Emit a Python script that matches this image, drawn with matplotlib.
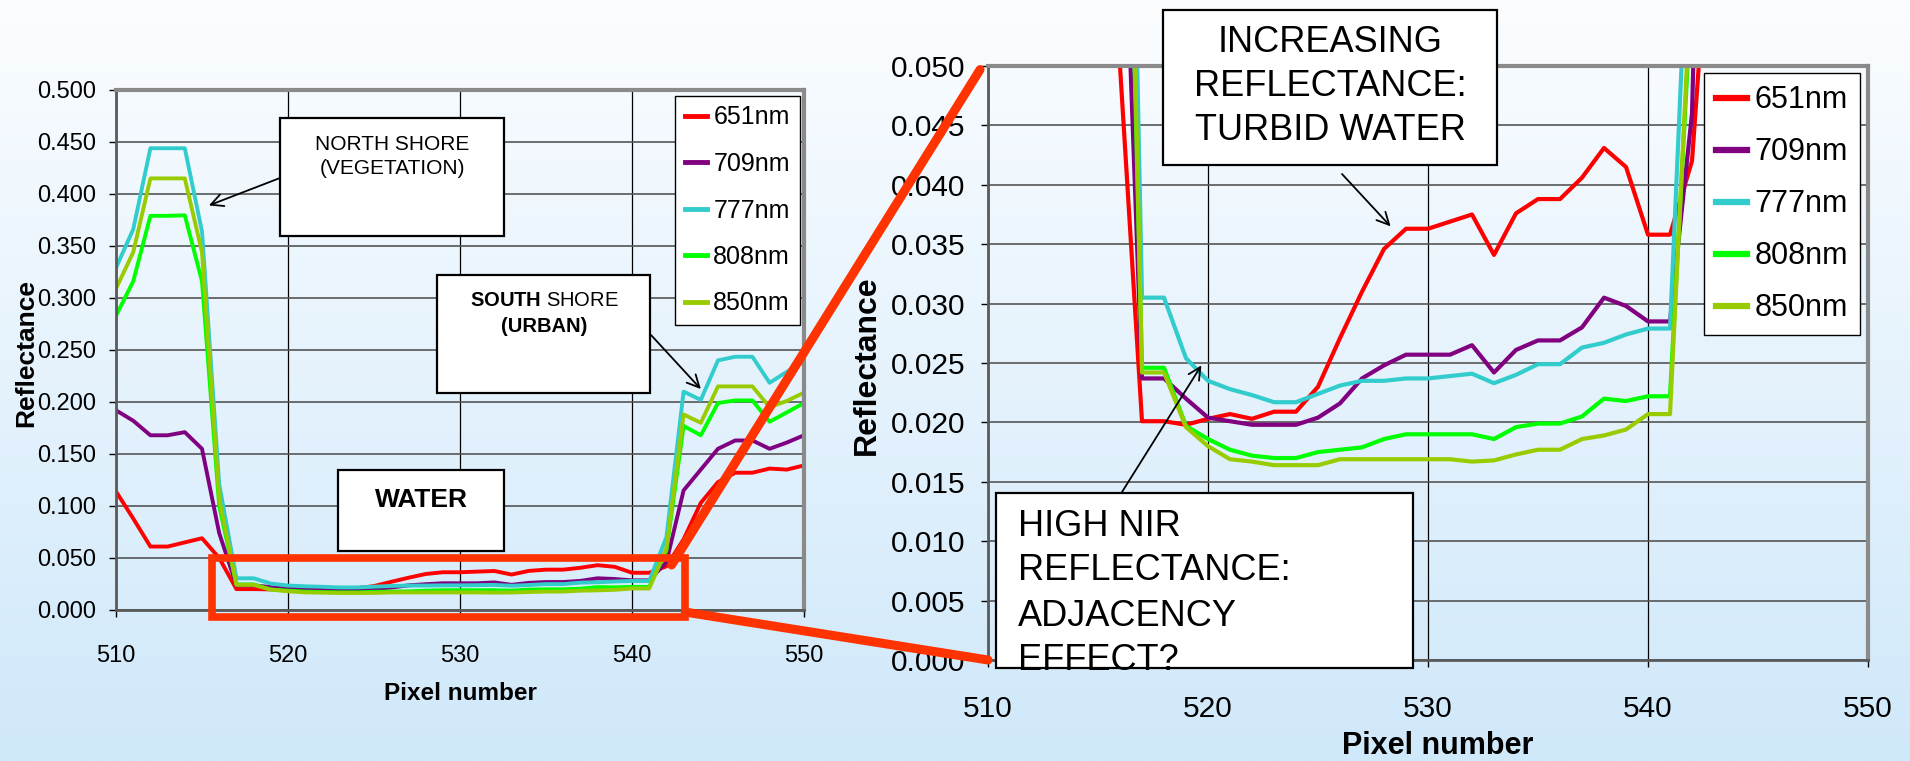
import numpy as np
import matplotlib
matplotlib.use("Agg")
import matplotlib.pyplot as plt
from matplotlib.patches import Rectangle, ConnectionPatch
from matplotlib.transforms import Affine2D

plt.rcParams['font.family'] = ['Liberation Sans', 'DejaVu Sans']
plt.rcParams['mathtext.fontset'] = 'custom'
plt.rcParams['mathtext.rm'] = 'Liberation Sans'
plt.rcParams['mathtext.bf'] = 'Liberation Sans:bold'

# Reflectance profile across the lake (pixel 510-550)
pixels = list(range(510, 551))

r651 = [0.114, 0.088, 0.061, 0.061, 0.065, 0.069, 0.050, 0.0201, 0.0201, 0.0198,
        0.0203, 0.0207, 0.0203, 0.0209, 0.0209, 0.0230, 0.0271, 0.0310, 0.0346, 0.0363,
        0.0363, 0.0369, 0.0375, 0.0341, 0.0376, 0.0388, 0.0388, 0.0406, 0.0431, 0.0415,
        0.0358, 0.0358, 0.042, 0.068, 0.103, 0.123, 0.132, 0.132, 0.136, 0.135, 0.139]
r709 = [0.192, 0.182, 0.168, 0.168, 0.171, 0.155, 0.074, 0.0237, 0.0237, 0.0220,
        0.0204, 0.0201, 0.0198, 0.0198, 0.0198, 0.0204, 0.0216, 0.0237, 0.0248, 0.0257,
        0.0257, 0.0257, 0.0265, 0.0242, 0.0261, 0.0269, 0.0269, 0.0280, 0.0305, 0.0298,
        0.0285, 0.0285, 0.046, 0.115, 0.135, 0.155, 0.163, 0.163, 0.155, 0.161, 0.168]
r777 = [0.329, 0.366, 0.444, 0.444, 0.444, 0.364, 0.121, 0.0305, 0.0305, 0.0254,
        0.0235, 0.0228, 0.0223, 0.0217, 0.0217, 0.0224, 0.0231, 0.0235, 0.0235, 0.0237,
        0.0237, 0.0239, 0.0241, 0.0233, 0.0240, 0.0249, 0.0249, 0.0263, 0.0267, 0.0274,
        0.0279, 0.0279, 0.070, 0.210, 0.202, 0.240, 0.2435, 0.2435, 0.2185, 0.229, 0.239]
r808 = [0.283, 0.316, 0.379, 0.379, 0.3795, 0.316, 0.100, 0.0246, 0.0246, 0.0197,
        0.0186, 0.0177, 0.0172, 0.0170, 0.0170, 0.0175, 0.0177, 0.0179, 0.0186, 0.0190,
        0.0190, 0.0190, 0.0190, 0.0186, 0.0196, 0.0199, 0.0199, 0.0205, 0.0220, 0.0218,
        0.0222, 0.0222, 0.057, 0.177, 0.168, 0.199, 0.2015, 0.2015, 0.181, 0.190, 0.199]
r850 = [0.309, 0.344, 0.415, 0.415, 0.415, 0.344, 0.107, 0.0242, 0.0242, 0.0196,
        0.0180, 0.0169, 0.0167, 0.0164, 0.0164, 0.0164, 0.0169, 0.0169, 0.0169, 0.0169,
        0.0169, 0.0169, 0.0167, 0.0168, 0.0173, 0.0177, 0.0177, 0.0186, 0.0189, 0.0194,
        0.0207, 0.0207, 0.059, 0.188, 0.180, 0.215, 0.215, 0.215, 0.195, 0.201, 0.209]

bands = ["651nm", "709nm", "777nm", "808nm", "850nm"]
series = [r651, r709, r777, r808, r850]
colors = ["#ff0000", "#800080", "#33cccc", "#00ff00", "#99cc00"]

W, H = 1910, 761
fig = plt.figure(figsize=(W / 100, H / 100), dpi=100)
# pixel coordinates, origin top-left
px = Affine2D().scale(1 / W, -1 / H).translate(0, 1) + fig.transFigure

# soft white-to-blue background
bg = fig.add_axes([0, 0, 1, 1], zorder=-1)
grad = np.linspace(0, 1, 256).reshape(-1, 1)
cmap = matplotlib.colors.LinearSegmentedColormap.from_list("bg", ["#fbfdff", "#cfe8fa"])
bg.imshow(grad, aspect="auto", cmap=cmap, extent=[0, 1, 0, 1], origin="upper")
bg.axis("off")


def frac(x0, y0, x1, y1):
    return [x0 / W, 1 - y1 / H, (x1 - x0) / W, (y1 - y0) / H]


def style_axes(ax, ymax, ystep, tick_fs, xpad, ypad):
    ax.set_facecolor("none")
    ax.set_xlim(510, 550)
    ax.set_ylim(0, ymax)
    ax.set_xticks(range(510, 551, 10))
    ax.set_yticks(np.arange(0, ymax + ystep / 2, ystep))
    ax.yaxis.set_major_formatter(matplotlib.ticker.FormatStrFormatter("%.3f"))
    ax.tick_params(axis="both", direction="out", length=5, width=1, labelsize=tick_fs)
    ax.tick_params(axis="x", pad=xpad)
    ax.tick_params(axis="y", pad=ypad)
    ax.grid(axis="y", color="#555555", lw=1.2)
    ax.grid(axis="x", color="black", lw=0.9)
    ax.set_axisbelow(True)
    for s in ["top", "right"]:
        ax.spines[s].set_color("#8a8a8a")
        ax.spines[s].set_linewidth(3)
    for s in ["left", "bottom"]:
        ax.spines[s].set_color("#5a5a5a")
        ax.spines[s].set_linewidth(2)


# left: full profile
ax1 = fig.add_axes(frac(116, 90, 804, 610))
for vals, c, lab in zip(series, colors, bands):
    ax1.plot(pixels, vals, color=c, lw=2.8, label=lab)
style_axes(ax1, 0.5, 0.05, 17, 20, 9.5)
ax1.set_xlabel("Pixel number", fontsize=17.5, fontweight="bold")
ax1.xaxis.set_label_coords(0.5, -0.16)
ax1.xaxis.label.set_va("center")
ax1.set_ylabel("Reflectance", fontsize=19, fontweight="bold")
ax1.yaxis.set_label_coords(-0.131, 0.494)
ax1.yaxis.label.set_va("center")
leg1 = ax1.legend(loc="upper left", bbox_to_anchor=(675 / W, 1 - 96 / H),
                  bbox_transform=fig.transFigure, borderaxespad=0, fontsize=18,
                  handlelength=0.9, handletextpad=0.25, labelspacing=0.9,
                  borderpad=0.38, fancybox=False, framealpha=1, edgecolor="black")
leg1.get_frame().set_linewidth(1)
for ln in leg1.get_lines():
    ln.set_linewidth(3.5)

# right: zoom on the water pixels
ax2 = fig.add_axes(frac(988, 66, 1868, 660))
for vals, c, lab in zip(series, colors, bands):
    ax2.plot(pixels, vals, color=c, lw=3, label=lab)
style_axes(ax2, 0.05, 0.005, 21.5, 20.5, 11.5)
ax2.set_xlabel("Pixel number", fontsize=22, fontweight="bold")
ax2.xaxis.set_label_coords(0.511, -0.145)
ax2.xaxis.label.set_va("center")
ax2.set_ylabel("Reflectance", fontsize=23, fontweight="bold")
ax2.yaxis.set_label_coords(-0.1375, 0.497)
ax2.yaxis.label.set_va("center")
leg2 = ax2.legend(loc="upper left", bbox_to_anchor=(1704 / W, 1 - 73 / H),
                  bbox_transform=fig.transFigure, borderaxespad=0, fontsize=22,
                  handlelength=1.0, handletextpad=0.25, labelspacing=0.72,
                  borderpad=0.4, fancybox=False, framealpha=1, edgecolor="black")
leg2.get_frame().set_linewidth(1)
for ln in leg2.get_lines():
    ln.set_linewidth(4.5)


def text_box(x0, y0, x1, y1, lines):
    fig.add_artist(Rectangle((x0, y0), x1 - x0, y1 - y0, transform=px,
                             facecolor="white", edgecolor="black", lw=1.6, zorder=4))
    for (x, y, s, fs, kw) in lines:
        fig.text(x, y, s, transform=px, fontsize=fs, va="center", zorder=5, **kw)


text_box(280, 118, 504, 236, [
    (392, 144, "NORTH SHORE", 15, dict(ha="center")),
    (392, 169, "(VEGETATION)", 15, dict(ha="center")),
])
text_box(437, 275, 650, 393, [
    (544, 301, r"$\bf{SOUTH}$ SHORE", 14.5, dict(ha="center")),
    (544, 327, "(URBAN)", 14.5, dict(ha="center", fontweight="bold")),
])
text_box(338, 470, 504, 551, [
    (421, 500, "WATER", 19, dict(ha="center", fontweight="bold")),
])
text_box(1163, 10, 1497, 165, [
    (1330, 43, "INCREASING", 26, dict(ha="center")),
    (1330, 86, "REFLECTANCE:", 26, dict(ha="center")),
    (1330, 130, "TURBID WATER", 26, dict(ha="center")),
])
text_box(996, 493, 1413, 668, [
    (1018, 526, "HIGH NIR", 26, dict(ha="left")),
    (1018, 571, "REFLECTANCE:", 26, dict(ha="left")),
    (1018, 617, "ADJACENCY", 26, dict(ha="left")),
    (1018, 661, "EFFECT?", 26, dict(ha="left")),
])

arrow = dict(arrowstyle="->", lw=1.3, color="black", shrinkA=0, shrinkB=0,
             mutation_scale=22)
ax1.annotate("", xy=(515.4, 0.389), xytext=(280, 178), textcoords=px, arrowprops=arrow)
ax1.annotate("", xy=(544.0, 0.2125), xytext=(651, 335), textcoords=px, arrowprops=arrow)
ax2.annotate("", xy=(528.3, 0.0365), xytext=(1342, 174), textcoords=px, arrowprops=arrow)
ax2.annotate("", xy=(519.7, 0.0248), xytext=(1122, 492), textcoords=px, arrowprops=arrow)

# zoom window and connectors
zoom_col = "#ff3300"
ax1.add_patch(Rectangle((515.6, -0.0067), 27.5, 0.0567, fill=False, ec=zoom_col,
                        lw=5.5, clip_on=False, zorder=6))
fig.add_artist(ConnectionPatch(xyA=(542.3, 0.0433), coordsA=ax1.transData,
                               xyB=(509.64, 0.0497), coordsB=ax2.transData,
                               color=zoom_col, lw=6.5, zorder=6))
fig.add_artist(ConnectionPatch(xyA=(543.1, -0.002), coordsA=ax1.transData,
                               xyB=(510.0, 0.0), coordsB=ax2.transData,
                               color=zoom_col, lw=6.5, zorder=6))

fig.savefig("out.png", dpi=100)
